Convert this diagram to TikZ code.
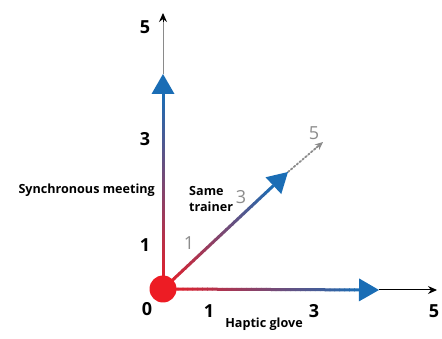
\documentclass[tikz,border=0pt]{standalone}
\usepackage{fontspec}
\setmainfont{Open Sans}
\usetikzlibrary{calc,arrows.meta}
\definecolor{gradred}{HTML}{ED1C24}
\definecolor{gradblue}{HTML}{1A6DB5}
\definecolor{axisgray}{HTML}{8A8A8A}
\definecolor{labelgray}{HTML}{8C8C8C}
\tikzset{
  axisline/.style={line width=1pt},
  tick/.style={font=\fontsize{18}{20}\selectfont\bfseries, text=black, inner sep=0pt},
  scorenum/.style={font=\fontsize{18}{20}\selectfont, text=labelgray, inner sep=0pt},
  caption/.style={font=\fontsize{12.6}{16}\selectfont\bfseries, inner sep=0pt},
  headtri/.style={fill=gradblue, draw=none},
  smalltip/.style={-{Stealth[length=9pt,width=8pt]}},
}
% draw a thick line whose colour runs from red (start) to blue (end)
\newcommand{\gradline}[2]{%
  \foreach \i in {0,...,39}{%
    \pgfmathsetmacro\ga{\i/40}%
    \pgfmathsetmacro\gb{min((\i+1.15)/40,1)}%
    \pgfmathsetmacro\gq{(\i+0.5)*2.5}%
    \draw[line width=3pt, color=gradblue!\gq!gradred]
      ($(#1)!\ga!(#2)$) -- ($(#1)!\gb!(#2)$);
  }%
}
\begin{document}
\begin{tikzpicture}[x=1pt,y=-1pt]
  \useasboundingbox (0,0) rectangle (442,339);

  % origin and axis ends
  \coordinate (O) at (163,289);
  \coordinate (VT) at (163,74);     % tip of vertical blue head
  \coordinate (VE) at (163,13);     % end of vertical axis
  \coordinate (HT) at (379,290);    % tip of horizontal blue head
  \coordinate (HE) at (437,290);    % end of horizontal axis
  \coordinate (DT) at (288,172);    % tip of diagonal blue head
  \coordinate (DE) at (323,142);    % end of dotted extension

  % thin axis continuations
  \draw[axisline, axisgray] (VT) -- ($(VE)+(0,6)$);
  \draw[axisline, smalltip] ($(VE)+(0,9)$) -- (VE);
  \draw[axisline, smalltip] (HT) -- (HE);
  \draw[line width=1.8pt, labelgray, dotted, line cap=round, shorten >=3pt] (DT) -- (DE);
  \draw[line width=1pt, labelgray, -{Stealth[length=8pt,width=7pt]}] ($(DT)!0.75!(DE)$) -- (DE);

  % head bases
  \coordinate (VB) at ($(VT)!20pt!(O)$);
  \coordinate (HB) at ($(HT)!20pt!(O)$);
  \coordinate (DB) at ($(DT)!20pt!(O)$);

  % gradient shafts
  \gradline{O}{VB}
  \gradline{O}{HB}
  \gradline{O}{DB}

  % triangular heads
  \fill[headtri] (VT) -- ($(VB)!11.5pt!90:(VT)$) -- ($(VB)!11.5pt!-90:(VT)$) -- cycle;
  \fill[headtri] (HT) -- ($(HB)!11.5pt!90:(HT)$) -- ($(HB)!11.5pt!-90:(HT)$) -- cycle;
  \fill[headtri] (DT) -- ($(DB)!11.5pt!90:(DT)$) -- ($(DB)!11.5pt!-90:(DT)$) -- cycle;

  % origin dot
  \fill[gradred] (O) circle (13.5);

  % axis scale labels
  \node[tick] (v5) at (145,27) {5};
  \node[tick] (v3) at (145,139) {3};
  \node[tick] (v1) at (145,245) {1};
  \node[tick] (o0) at (147,309) {0};
  \node[tick] (h1) at (209,311) {1};
  \node[tick] (h3) at (314,311) {3};
  \node[tick] (h5) at (434,311) {5};

  % diagonal scale labels
  \node[scorenum] (d1) at (189,243) {1};
  \node[scorenum] (d3) at (241,197) {3};
  \node[scorenum] (d5) at (314,133) {5};

  % axis names
  \node[caption] (hname) at (264,324) {Haptic glove};
  \node[caption, anchor=east] (vname) at (155,190) {Synchronous meeting};
  \node[caption, anchor=north west, align=left] (dname) at (189,186) {Same\\trainer};
\end{tikzpicture}
\end{document}
